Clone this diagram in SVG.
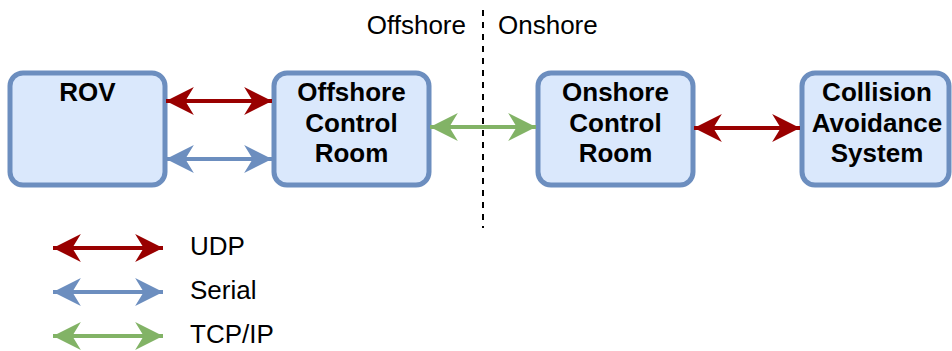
<svg xmlns="http://www.w3.org/2000/svg" width="952" height="351" viewBox="0 0 952 351">
<style>
.box{fill:#dae8fc;stroke:#6c8ebf;stroke-width:5}
.lbl{font-family:"Liberation Sans",Arial,sans-serif;font-size:26px;font-weight:bold;text-anchor:middle;fill:#000}
.txt{font-family:"Liberation Sans",Arial,sans-serif;font-size:26px;fill:#000}
.red{stroke:#990000;stroke-width:4;fill:none}
.blue{stroke:#6c8ebf;stroke-width:4;fill:none}
.green{stroke:#82b366;stroke-width:4;fill:none}
</style>
<defs>
<marker id="hr" markerUnits="userSpaceOnUse" markerWidth="30" markerHeight="30" viewBox="-27 -14 28 28" refX="0" refY="0" orient="auto-start-reverse"><path d="M0,0 L-26,-13 L-18,0 L-26,13 Z" fill="#990000"/></marker>
<marker id="hb" markerUnits="userSpaceOnUse" markerWidth="30" markerHeight="30" viewBox="-27 -14 28 28" refX="0" refY="0" orient="auto-start-reverse"><path d="M0,0 L-26,-13 L-18,0 L-26,13 Z" fill="#6c8ebf"/></marker>
<marker id="hg" markerUnits="userSpaceOnUse" markerWidth="30" markerHeight="30" viewBox="-27 -14 28 28" refX="0" refY="0" orient="auto-start-reverse"><path d="M0,0 L-26,-13 L-18,0 L-26,13 Z" fill="#82b366"/></marker>
</defs>
<g id="divider">
<line x1="483" y1="10" x2="483" y2="228" stroke="#000" stroke-width="2" stroke-dasharray="6,6"/>
<text class="txt" x="466" y="34" text-anchor="end">Offshore</text>
<text class="txt" x="498" y="34">Onshore</text>
</g>
<g id="rov"><rect class="box" x="10" y="73" width="155" height="112" rx="13"/><text class="lbl" x="87.5" y="101">ROV</text></g>
<g id="offshore"><rect class="box" x="274" y="73" width="155" height="112" rx="13"/><text class="lbl" x="351.5" y="101">Offshore</text><text class="lbl" x="351.5" y="132">Control</text><text class="lbl" x="351.5" y="162">Room</text></g>
<g id="onshore"><rect class="box" x="538" y="73" width="155" height="112" rx="13"/><text class="lbl" x="615.5" y="101">Onshore</text><text class="lbl" x="615.5" y="132">Control</text><text class="lbl" x="615.5" y="162">Room</text></g>
<g id="cas"><rect class="box" x="802" y="73" width="147" height="112" rx="13"/><text class="lbl" x="877" y="101">Collision</text><text class="lbl" x="877" y="132">Avoidance</text><text class="lbl" x="877" y="162">System</text></g>
<g id="connectors">
<path class="red" d="M166,101 H272" marker-start="url(#hr)" marker-end="url(#hr)"/>
<path class="blue" d="M166,159 H272" marker-start="url(#hb)" marker-end="url(#hb)"/>
<path class="green" d="M430,127 H536" marker-start="url(#hg)" marker-end="url(#hg)"/>
<path class="red" d="M694,128 H800" marker-start="url(#hr)" marker-end="url(#hr)"/>
</g>
<g id="legend">
<path class="red" d="M53,248 H163" marker-start="url(#hr)" marker-end="url(#hr)"/>
<path class="blue" d="M53,292 H163" marker-start="url(#hb)" marker-end="url(#hb)"/>
<path class="green" d="M53,336 H163" marker-start="url(#hg)" marker-end="url(#hg)"/>
<text class="txt" x="190" y="255">UDP</text>
<text class="txt" x="190" y="299">Serial</text>
<text class="txt" x="190" y="343">TCP/IP</text>
</g>
</svg>
